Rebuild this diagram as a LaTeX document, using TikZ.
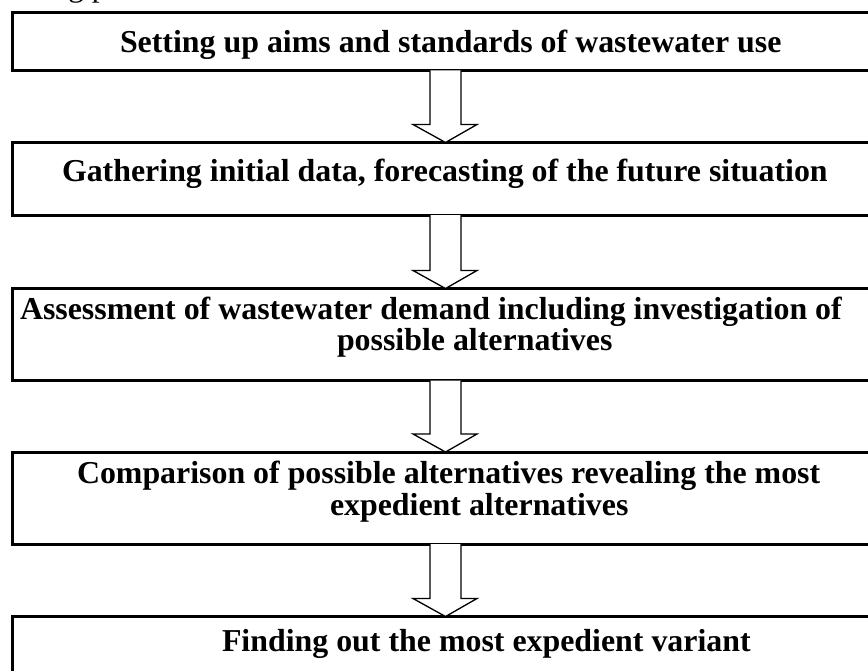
\documentclass[tikz,border=0pt]{standalone}
\usepackage{fontspec}
\setmainfont{Liberation Serif}
\usetikzlibrary{calc}
\begin{document}
\begin{tikzpicture}[x=1bp,y=-1bp,
  boxst/.style={draw=black,line width=3bp,outer sep=0pt,inner sep=0pt,anchor=north west,minimum width=900bp},
  txt/.style={inner sep=0pt,outer sep=0pt,anchor=base west,font=\fontsize{32}{36}\selectfont\bfseries},
  fragtxt/.style={inner sep=0pt,outer sep=0pt,anchor=base west,font=\fontsize{31.5}{36}\selectfont},
  blockarrow/.style={draw=black,line width=1.3bp,line join=miter,fill=white}]
\useasboundingbox (0,0) rectangle (868,671);
\clip (0,0) rectangle (868,671);
\fill[white] (0,0) rectangle (868,671);
% cut-off text line above the chart
\node[fragtxt] (frag) at (44,-3) {ing p};
% boxes
\node[boxst,minimum height=57.5bp] (b1) at (12.5,13) {};
\node[boxst,minimum height=72.5bp] (b2) at (12.5,142.5) {};
\node[boxst,minimum height=92bp] (b3) at (12.5,288.5) {};
\node[boxst,minimum height=92bp] (b4) at (12.5,452) {};
\node[boxst,minimum height=80bp] (b5) at (12.5,616.5) {};
% texts
\node[txt] (t1) at (120,53) {Setting up aims and standards of wastewater use};
\node[txt] (t2) at (62,181) {Gathering initial data, forecasting of the future situation};
\node[txt] (t3a) at (20,319) {Assessment of wastewater demand including investigation of};
\node[txt] (t3b) at (337,350) {possible alternatives};
\node[txt] (t4a) at (77,483) {Comparison of possible alternatives revealing the most};
\node[txt] (t4b) at (330,515) {expedient alternatives};
\node[txt] (t5) at (222,651) {Finding out the most expedient variant};
% block arrows
\coordinate (ax) at (445.5,0);
\foreach \u/\l in {b1/b2,b2/b3,b3/b4,b4/b5}{
  \draw[blockarrow] ($(ax |- \u.south)+(-15.5,0)$) -- ($(ax |- \l.north)+(-15.5,-18)$)
    -- ($(ax |- \l.north)+(-32.5,-18)$) -- (ax |- \l.north)
    -- ($(ax |- \l.north)+(31.5,-18)$) -- ($(ax |- \l.north)+(15.5,-18)$)
    -- ($(ax |- \u.south)+(15.5,0)$);
}
\end{tikzpicture}
\end{document}
